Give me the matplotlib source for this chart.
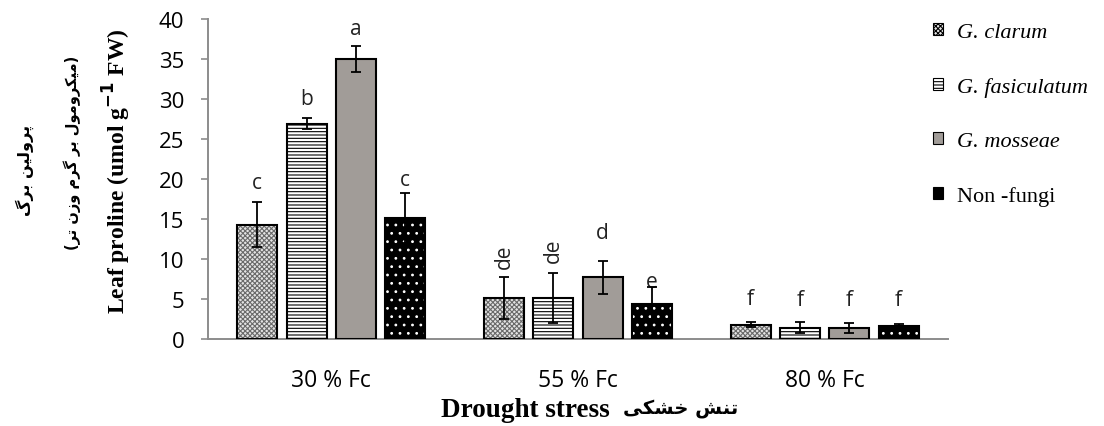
import matplotlib
matplotlib.use("Agg")
import matplotlib.pyplot as plt
from matplotlib.patches import Patch
import numpy as np

# ---------------- data ----------------
categories = ['30 % Fc', '55 % Fc', '80 % Fc']
series_names = ['G. clarum', 'G. fasiculatum', 'G. mosseae', 'Non -fungi']

clarum = [14.3, 5.1, 1.8]
clarum_err = [2.8, 2.6, 0.3]
fasiculatum = [26.9, 5.1, 1.4]
fasiculatum_err = [0.7, 3.1, 0.7]
mosseae = [35.0, 7.7, 1.35]
mosseae_err = [1.6, 2.1, 0.6]
non_fungi = [15.1, 4.4, 1.6]
non_fungi_err = [3.1, 2.1, 0.3]

letters_clarum = ['c', 'de', 'f']
letters_fasiculatum = ['b', 'de', 'f']
letters_mosseae = ['a', 'd', 'f']
letters_non_fungi = ['c', 'e', 'f']

y_ticks = [0, 5, 10, 15, 20, 25, 30, 35, 40]

# Persian texts (presentation forms, visual order)
fa_title1 = '\uFB92\uFEAE\uFE91 \uFEE6\uFBFF\uFEDF\uFEED\uFEAE\uFB58'          # پرولین برگ
fa_title2 = ('(' + '\uFEAE\uFE97 \uFEE5\uFEAF\uFEED \uFEE1\uFEAE\uFB94 '
             '\uFEAE\uFE91 \uFEDD\uFEEE\uFEE3\uFEED\uFEAE\uFB91\uFBFF\uFEE3' + ')')  # (میکرومول بر گرم وزن تر)
fa_xlabel = '\uFBFD\uFB91\uFEB8\uFEA7 \uFEB6\uFEE8\uFE97'                      # تنش خشکی

# ---------------- style ----------------
W, H = 1104, 427
plt.rcParams['hatch.linewidth'] = 0.8
fig = plt.figure(figsize=(W / 100, H / 100), dpi=100)
ax = fig.add_axes([208 / W, 1 - 340 / H, (948 - 208) / W, (340 - 20) / H])

values = [clarum, fasiculatum, mosseae, non_fungi]
errors = [clarum_err, fasiculatum_err, mosseae_err, non_fungi_err]
letters = [letters_clarum, letters_fasiculatum, letters_mosseae, letters_non_fungi]
faces = ['#e4e4e4', 'white', '#a19c98', 'black']
hatches = ['xxxxxxx', '-----', None, '..']
hatch_cols = ['#6a6a6a', 'black', '#a19c98', 'white']
offsets = [-0.3, -0.1, 0.1, 0.3]
bar_w = 0.162
# letter offsets (pixels above the error-bar tip)
letter_pad = [[20, 22, 24], [20, 24, 23], [18, 28, 24], [14, 6, 24]]

x = np.arange(len(categories))
tick_font = 'Open Sans'
for i in range(4):
    xs = x + offsets[i]
    ax.bar(xs, values[i], bar_w, color=faces[i], edgecolor=hatch_cols[i],
           hatch=hatches[i], linewidth=0, zorder=2)
    ax.bar(xs, values[i], bar_w, fill=False, edgecolor='black',
           linewidth=1.5, zorder=3)
    ax.errorbar(xs, values[i], yerr=errors[i], fmt='none', ecolor='black',
                elinewidth=1.3, capsize=3.8, capthick=1.3, zorder=4)
    for j in range(len(categories)):
        top = values[i][j] + errors[i][j]
        rot = 90 if letters[i][j] == 'de' else 0
        ax.annotate(letters[i][j], (xs[j], top),
                    xytext=(0, letter_pad[i][j] * 0.72), textcoords='offset points',
                    ha='center', va='center', rotation=rot,
                    fontsize=15, family=tick_font, color='#222222')

ax.set_xlim(-0.5, 2.5)
ax.set_ylim(0, 40)
ax.set_yticks(y_ticks)
ax.set_xticks(x)
ax.set_xticklabels(categories, family=tick_font, fontsize=16.5)
ax.set_yticklabels([str(t) for t in y_ticks], family=tick_font, fontsize=16)
ax.tick_params(axis='y', direction='out', length=5, width=1.2, color='#8c8c8c', pad=12)
ax.tick_params(axis='x', length=0, pad=21)
for s in ['top', 'right']:
    ax.spines[s].set_visible(False)
for s in ['left', 'bottom']:
    ax.spines[s].set_color('#8c8c8c')
    ax.spines[s].set_linewidth(1.4)

# y labels
fig.text(117 / W, 1 - 171 / H, 'Leaf proline (umol g$^{\\mathbf{-1}}$ FW)', rotation=90,
         ha='center', va='center', fontsize=17, fontweight='bold',
         family=['Liberation Serif', 'DejaVu Serif'])
fig.text(72 / W, 1 - 153 / H, fa_title2, rotation=90, ha='center', va='center',
         fontsize=10.5, fontweight='bold', family=['DejaVu Sans'])
fig.text(25 / W, 1 - 170 / H, fa_title1, rotation=90, ha='center', va='center',
         fontsize=11.5, fontweight='bold', family=['DejaVu Sans'])

# x labels
fig.text(610 / W, 1 - 411 / H, 'Drought stress', ha='right', va='center',
         fontsize=19.5, fontweight='bold', family=['Liberation Serif'])
fig.text(623 / W, 1 - 409 / H, fa_xlabel, ha='left', va='center',
         fontsize=14, fontweight='bold', family=['DejaVu Sans'])

# legend
handles = [Patch(facecolor=faces[i], edgecolor='black', hatch=hatches[i], linewidth=0.8)
           for i in range(3)]
handles.append(Patch(facecolor='black', edgecolor='black', linewidth=0.8))
leg = fig.legend(handles, series_names, loc='upper left',
                 bbox_to_anchor=(933 / W, 1 - 24 / H), frameon=False,
                 prop={'family': 'Liberation Serif', 'size': 16},
                 handlelength=0.45, handleheight=0.45, handletextpad=0.62,
                 labelspacing=1.58, borderaxespad=0, borderpad=0)
for t in leg.get_texts()[:3]:
    t.set_fontstyle('italic')

fig.savefig('out.png', dpi=100)
